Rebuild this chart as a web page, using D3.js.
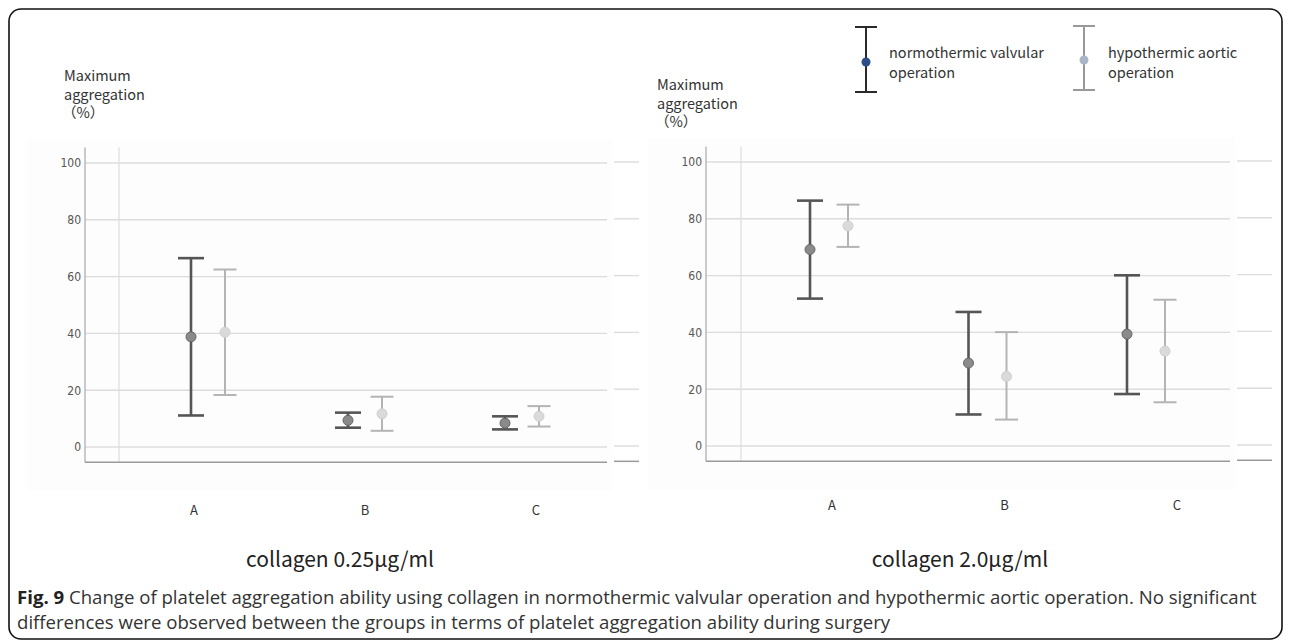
<!DOCTYPE html>
<html>
<head>
<meta charset="utf-8">
<script src="https://cdn.jsdelivr.net/npm/d3@7"></script>
<style>
  body { margin: 0; background: #fff; }
  svg { display: block; }
  text { font-family: "Noto Sans CJK JP", "Noto Sans", sans-serif; }
</style>
</head>
<body>
<svg id="chart" width="1290" height="641"></svg>
<script>
'use strict';

const categories = ['A', 'B', 'C'];
const series = ['normothermic valvular operation', 'hypothermic aortic operation'];
const yTicks = [0, 20, 40, 60, 80, 100];

// collagen 0.25 ug/ml : [lower, mean, upper]
const normoLow = [[11.1, 38.8, 66.5], [6.8, 9.4, 12.1], [6.2, 8.4, 10.8]];
const hypoLow  = [[18.3, 40.4, 62.5], [5.7, 11.7, 17.7], [7.2, 10.8, 14.4]];
// collagen 2.0 ug/ml
const normoHigh = [[51.9, 69.2, 86.4], [11.1, 29.2, 47.2], [18.3, 39.4, 60.1]];
const hypoHigh  = [[70.1, 77.5, 85.0], [9.3, 24.5, 40.1], [15.4, 33.4, 51.5]];

const panelTitles = ['collagen 0.25\u03bcg/ml', 'collagen 2.0\u03bcg/ml'];
const captionBold = 'Fig. 9';
const captionLines = [
  ' Change of platelet aggregation ability using collagen in normothermic valvular operation and hypothermic aortic operation. No significant',
  'differences were observed between the groups in terms of platelet aggregation ability during surgery'
];

const svg = d3.select('#chart');

// outer frame
svg.append('rect')
  .attr('x', 9).attr('y', 9).attr('width', 1273).attr('height', 630)
  .attr('rx', 12)
  .attr('fill', 'none').attr('stroke', '#111').attr('stroke-width', 1.6);

const styles = [
  { stroke: '#555', width: 2.6, cap: 13, dot: '#8a8a8a', dotStroke: '#666' },
  { stroke: '#b4b4b4', width: 2, cap: 11.5, dot: '#dadada', dotStroke: '#cfcfcf' }
];

const panels = [
  { axisX: 85, gridX: 119, gridEnd: 607, stub: [614, 639], yTop: 163, yZero: 447,
    cat: [208, 522], off: 17, lab: [194, 536], labY: 515, titleX: 64, titleY: 81,
    heading: 340, data: [normoLow, hypoLow] },
  { axisX: 706, gridX: 741, gridEnd: 1230, stub: [1237, 1272], yTop: 162, yZero: 446,
    cat: [829, 1146], off: 19, lab: [832, 1177], labY: 510, titleX: 657, titleY: 90,
    heading: 960, data: [normoHigh, hypoHigh] }
];

panels.forEach((p, pi) => {
  const g = svg.append('g');
  const y = d3.scaleLinear().domain([0, 100]).range([p.yZero, p.yTop]);
  const x = d3.scalePoint().domain(categories).range(p.cat);
  const xl = d3.scalePoint().domain(categories).range(p.lab);
  const bottom = y(-5.4);

  // faint plot background
  g.append('rect')
    .attr('x', p.axisX - 58).attr('y', y(105) - 10)
    .attr('width', p.gridEnd - p.axisX + 63).attr('height', bottom - y(105) + 38)
    .attr('fill', '#fdfdfd');

  // gridlines
  g.selectAll('.grid').data(yTicks).enter().append('line')
    .attr('x1', p.axisX).attr('x2', p.gridEnd)
    .attr('y1', d => y(d)).attr('y2', d => y(d))
    .attr('stroke', '#dcdcdc').attr('stroke-width', 1.4);
  g.selectAll('.stub').data(yTicks).enter().append('line')
    .attr('x1', p.stub[0]).attr('x2', p.stub[1])
    .attr('y1', d => y(d) - 1).attr('y2', d => y(d) - 1)
    .attr('stroke', '#dcdcdc').attr('stroke-width', 1.4);

  g.append('line')
    .attr('x1', p.gridX).attr('x2', p.gridX).attr('y1', y(105.5)).attr('y2', bottom)
    .attr('stroke', '#dedede').attr('stroke-width', 1.2);

  // y axis
  const yAxis = d3.axisLeft(y).tickValues(yTicks).tickSize(0).tickPadding(4);
  const ax = g.append('g').attr('transform', `translate(${p.axisX},0)`).call(yAxis);
  ax.select('.domain').remove();
  ax.selectAll('text').attr('fill', '#555').style('font-size', '12px')
    .style('font-family', '"DejaVu Sans Condensed", "Noto Sans", sans-serif');
  g.append('line')
    .attr('x1', p.axisX).attr('x2', p.axisX).attr('y1', y(105.5)).attr('y2', bottom)
    .attr('stroke', '#a8a8a8').attr('stroke-width', 1.2);

  // bottom axis
  g.append('line')
    .attr('x1', p.axisX).attr('x2', p.gridEnd).attr('y1', bottom).attr('y2', bottom)
    .attr('stroke', '#9a9a9a').attr('stroke-width', 1.5);
  g.append('line')
    .attr('x1', p.stub[0]).attr('x2', p.stub[1]).attr('y1', bottom - 1).attr('y2', bottom - 1)
    .attr('stroke', '#9a9a9a').attr('stroke-width', 1.5);

  // category labels
  g.selectAll('.cat').data(categories).enter().append('text')
    .attr('x', d => xl(d)).attr('y', p.labY)
    .attr('text-anchor', 'middle').attr('fill', '#333').style('font-size', '13px')
    .text(d => d);

  // y title
  const t = g.append('text').attr('x', p.titleX).attr('y', p.titleY)
    .attr('fill', '#333').style('font-size', '14.5px');
  ['Maximum', 'aggregation', '(%)'].forEach((s, i) => {
    t.append('tspan').attr('x', s === '(%)' ? p.titleX - 2 : p.titleX)
      .attr('dy', i === 0 ? 0 : 18.5).text(s === '(%)' ? '\uff08%\uff09' : s);
  });

  // error bars
  p.data.forEach((vals, si) => {
    const st = styles[si];
    const cx = d => x(categories[d.i]) + (si === 0 ? -p.off : p.off);
    const rows = vals.map((v, i) => ({ i, lo: v[0], mean: v[1], hi: v[2] }));
    const eg = g.selectAll('.eb' + si).data(rows).enter().append('g');
    eg.append('line')
      .attr('x1', cx).attr('x2', cx).attr('y1', d => y(d.lo)).attr('y2', d => y(d.hi))
      .attr('stroke', st.stroke).attr('stroke-width', st.width);
    ['lo', 'hi'].forEach(k => {
      eg.append('line')
        .attr('x1', d => cx(d) - st.cap).attr('x2', d => cx(d) + st.cap)
        .attr('y1', d => y(d[k])).attr('y2', d => y(d[k]))
        .attr('stroke', st.stroke).attr('stroke-width', st.width);
    });
    eg.append('circle')
      .attr('cx', cx).attr('cy', d => y(d.mean)).attr('r', 5)
      .attr('fill', st.dot).attr('stroke', st.dotStroke).attr('stroke-width', 1);
  });

  // panel heading
  svg.append('text').attr('x', p.heading).attr('y', 567)
    .attr('text-anchor', 'middle').attr('fill', '#222').style('font-size', '21px')
    .text(panelTitles[pi]);
});

// legend
const legend = [
  { x: 866, top: 27, bottom: 92, dotY: 62, stroke: '#2a2a2a', dot: '#2c4d86', tx: 889 },
  { x: 1084, top: 26, bottom: 90, dotY: 60, stroke: '#999', dot: '#aab6c8', tx: 1108 }
];
legend.forEach((l, i) => {
  const lg = svg.append('g');
  lg.append('line').attr('x1', l.x).attr('x2', l.x).attr('y1', l.top).attr('y2', l.bottom)
    .attr('stroke', l.stroke).attr('stroke-width', 2);
  [l.top, l.bottom].forEach(v => {
    lg.append('line').attr('x1', l.x - 11).attr('x2', l.x + 11).attr('y1', v).attr('y2', v)
      .attr('stroke', l.stroke).attr('stroke-width', 2);
  });
  lg.append('circle').attr('cx', l.x).attr('cy', l.dotY).attr('r', 4.5).attr('fill', l.dot);
  const words = series[i].split(' ');
  const txt = lg.append('text').attr('x', l.tx).attr('y', 58).attr('fill', '#333')
    .style('font-size', '14.5px');
  txt.append('tspan').attr('x', l.tx).text(words.slice(0, -1).join(' '));
  txt.append('tspan').attr('x', l.tx).attr('dy', 19.5).text(words[words.length - 1]);
});

// caption
const cap = svg.append('text').attr('x', 17).attr('y', 604).attr('fill', '#333')
  .style('font-family', '"Open Sans", sans-serif').style('font-size', '18.6px');
cap.append('tspan').attr('font-weight', 'bold').attr('fill', '#222').text(captionBold);
cap.append('tspan').text(captionLines[0]);
svg.append('text').attr('x', 17).attr('y', 629).attr('fill', '#333')
  .style('font-family', '"Open Sans", sans-serif').style('font-size', '18.6px')
  .text(captionLines[1]);
</script>
</body>
</html>
